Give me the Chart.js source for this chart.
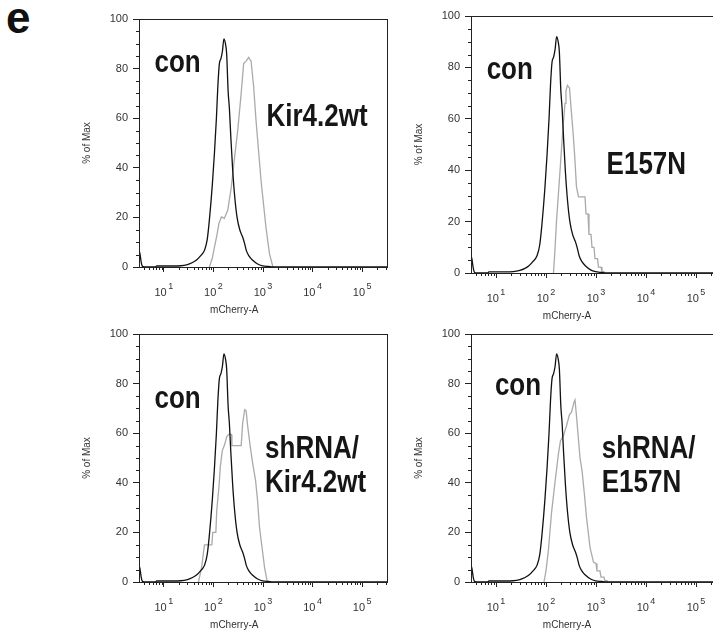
<!DOCTYPE html>
<html>
<head>
<meta charset="utf-8">
<script src="https://cdn.jsdelivr.net/npm/chart.js@4.4.1/dist/chart.umd.min.js"></script>
<style>
  html, body { margin: 0; padding: 0; background: #fff; }
  body { width: 713px; height: 635px; overflow: hidden; position: relative; }
  canvas { position: absolute; }
  #tag { position: absolute; left: 6px; top: -7px; line-height: 44px; font: bold 44px "Liberation Sans", Arial, sans-serif; color: #111; }
</style>
</head>
<body>
<div id="tag">e</div>
<canvas id="p1"></canvas>
<canvas id="p2"></canvas>
<canvas id="p3"></canvas>
<canvas id="p4"></canvas>
<script>
const FONT = '"Liberation Sans", Arial, sans-serif';

// mCherry-A intensity (x) and % of Max (y)
const conX = [3.17, 3.2, 3.3, 3.5, 3.7, 4.0, 6.8, 7.2, 15, 22, 30, 38, 45, 55, 66, 75, 83, 95, 105, 115, 123, 132, 142, 152, 163, 175, 185, 198, 210, 225, 245, 270, 300, 340, 390, 425, 460, 520, 620, 780, 980, 1300, 1600, 316000];
const conY = [2, 6.5, 5.5, 2, 0.3, 0, 0, 0.4, 0.4, 0.5, 1, 1.8, 2.7, 4.5, 6.7, 11, 19, 33, 46, 60, 73, 82, 84, 87, 92, 90, 86, 71, 64, 52, 39, 28, 20, 15, 12, 9.5, 6.7, 4.5, 2.7, 1.2, 0.5, 0.2, 0, 0];

const kirWtX = [83, 95, 105, 118, 129, 145, 166, 195, 229, 263, 309, 363, 407, 457, 513, 575, 646, 724, 912, 1148, 1349, 1585];
const kirWtY = [0, 3.5, 8, 13, 17.5, 20.2, 19.6, 23, 32, 43, 55, 70, 82, 83, 84.5, 83, 73, 59, 35, 16, 5.4, 0];

const e157nX = [141, 150, 162, 176, 191, 207, 224, 240, 251, 269, 295, 324, 350, 372, 407, 447, 603, 631, 692, 724, 794, 832, 912, 955, 1072, 1122, 1259, 1318, 1445, 1480];
const e157nY = [0, 8, 20, 30, 40, 50, 59, 66, 71, 73, 72, 62, 54, 46.5, 33.5, 29.6, 29.6, 23, 23, 15, 15, 10, 10, 5.6, 5.6, 2.3, 2.3, 0.5, 0.5, 0];

const shKirX = [50, 58, 66, 93, 97, 112, 117, 129, 138, 151, 166, 186, 204, 229, 236, 363, 389, 427, 457, 490, 550, 617, 708, 776, 851, 955, 1072, 1202, 1259];
const shKirY = [0, 6, 15, 15, 20, 20, 29, 38, 46.5, 53, 55, 58.6, 59.5, 59.5, 55, 55, 64, 69.5, 69, 63, 55, 48, 41, 33, 22, 14, 6, 0.7, 0];

const shE157nX = [91, 100, 112, 129, 151, 178, 195, 224, 257, 295, 324, 363, 380, 407, 479, 525, 589, 646, 759, 891, 1000, 1047, 1200, 1259, 1445, 1500, 1660, 1738];
const shE157nY = [0, 4.5, 13, 28, 40, 52, 57, 59, 63, 67.5, 68.5, 72.5, 73.4, 67, 50, 45, 35, 26, 14, 8, 7.5, 4.5, 4.5, 2, 2, 0.5, 0.5, 0];

const X_MIN = Math.pow(10, 0.5);
const X_MAX = Math.pow(10, 5.5);
const Y_TICKS_STEP = 5;

// decade and minor tick values for the log axis
const logTicks = [];
for (let e = 0; e <= 5; e++) {
    for (let m = 1; m <= 9; m++) {
        const v = m * Math.pow(10, e);
        if (v >= X_MIN && v <= X_MAX) logTicks.push(v);
    }
}

function isDecade(v) {
    const e = Math.log10(v);
    return Math.abs(e - Math.round(e)) < 1e-9;
}

function toPoints(xs, ys) {
    return xs.map((x, i) => ({ x: x, y: ys[i] }));
}

const decor = {
    id: 'decor',
    afterDraw(chart, args, opts) {
        const { ctx, chartArea: a, scales: { x, y } } = chart;
        ctx.save();
        ctx.strokeStyle = '#222';
        ctx.lineWidth = 1;
        ctx.beginPath();
        x.ticks.forEach(t => {
            if (isDecade(t.value)) return;
            const px = Math.round(x.getPixelForValue(t.value)) + 0.5;
            ctx.moveTo(px, a.bottom);
            ctx.lineTo(px, a.bottom + 3);
        });
        y.ticks.forEach(t => {
            if (t.value % 20 === 0) return;
            const py = Math.round(y.getPixelForValue(t.value)) + 0.5;
            ctx.moveTo(a.left - 3, py);
            ctx.lineTo(a.left, py);
        });
        ctx.stroke();
        ctx.strokeRect(Math.round(a.left) + 0.5, Math.round(a.top) + 0.5,
            Math.round(a.right - a.left), Math.round(a.bottom - a.top));

        // 10^n labels
        ctx.fillStyle = '#333';
        ctx.textAlign = 'left';
        ctx.textBaseline = 'alphabetic';
        x.ticks.forEach(t => {
            if (!isDecade(t.value)) return;
            const e = String(Math.round(Math.log10(t.value)));
            const px = x.getPixelForValue(t.value);
            ctx.font = '11px ' + FONT;
            const wb = ctx.measureText('10').width;
            ctx.font = '9px ' + FONT;
            const we = ctx.measureText(e).width;
            const left = px - (wb + 1.5 + we) / 2;
            ctx.font = '11px ' + FONT;
            ctx.fillText('10', left, a.bottom + 29);
            ctx.font = '9px ' + FONT;
            ctx.fillText(e, left + wb + 1.5, a.bottom + 22);
        });
        ctx.font = '10px ' + FONT;
        ctx.textAlign = 'center';
        ctx.fillText('mCherry-A', x.getPixelForValue(opts.titleAt), a.bottom + 46);

        // sample names, slightly tall like the printed figure
        ctx.fillStyle = '#161616';
        ctx.font = 'bold 26px ' + FONT;
        ctx.textAlign = 'left';
        opts.notes.forEach(n => {
            ctx.save();
            ctx.translate(x.getPixelForValue(n.x), y.getPixelForValue(n.y));
            ctx.scale(1, 1.2);
            ctx.fillText(n.text, 0, 0);
            ctx.restore();
        });
        ctx.restore();
    }
};

const panels = [
    { id: 'p1', L: 139, T: 19, R: 387, B: 267, grey: [kirWtX, kirWtY],
      notes: [{ text: 'con', x: 6.5, y: 78.7 }, { text: 'Kir4.2wt', x: 1175, y: 56.9 }] },
    { id: 'p2', L: 471, T: 16, R: 721, B: 273, grey: [e157nX, e157nY],
      notes: [{ text: 'con', x: 6.5, y: 75.6 }, { text: 'E157N', x: 1629, y: 38.7 }] },
    { id: 'p3', L: 139, T: 334, R: 387, B: 582, grey: [shKirX, shKirY],
      notes: [{ text: 'con', x: 6.5, y: 70.1 }, { text: 'shRNA/', x: 1100, y: 50 }, { text: 'Kir4.2wt', x: 1100, y: 36.4 }] },
    { id: 'p4', L: 471, T: 334, R: 721, B: 582, grey: [shE157nX, shE157nY],
      notes: [{ text: 'con', x: 9.5, y: 75.4 }, { text: 'shRNA/', x: 1300, y: 49.8 }, { text: 'E157N', x: 1300, y: 36.3 }] }
];

panels.forEach(p => {
    const canvas = document.getElementById(p.id);
    const x0 = p.L - 80, y0 = p.T - 16;
    const W = p.R - p.L + 100, H = p.B - p.T + 70;
    canvas.width = W;
    canvas.height = H;
    canvas.style.left = x0 + 'px';
    canvas.style.top = y0 + 'px';
    canvas.style.width = W + 'px';
    canvas.style.height = H + 'px';

    new Chart(canvas, {
        type: 'line',
        data: {
            datasets: [
                { label: 'con', data: toPoints(conX, conY), borderColor: '#111', borderWidth: 1.3,
                  pointRadius: 0, cubicInterpolationMode: 'monotone' },
                { label: p.notes[p.notes.length - 1].text, data: toPoints(p.grey[0], p.grey[1]),
                  borderColor: '#aaa', borderWidth: 1.3, pointRadius: 0, tension: 0 }
            ]
        },
        options: {
            responsive: false,
            animation: false,
            devicePixelRatio: 1,
            layout: { padding: { left: 0, top: 16, right: 20, bottom: 0 } },
            plugins: {
                legend: { display: false },
                tooltip: { enabled: false },
                decor: { titleAt: Math.pow(10, 2.42), notes: p.notes }
            },
            scales: {
                x: {
                    type: 'logarithmic',
                    min: X_MIN,
                    max: X_MAX,
                    border: { display: false },
                    grid: {
                        drawOnChartArea: false,
                        tickLength: 5,
                        tickColor: c => (c.tick && isDecade(c.tick.value)) ? '#222' : 'rgba(0,0,0,0)'
                    },
                    ticks: { autoSkip: false, maxRotation: 0, callback: () => '' },
                    afterBuildTicks: s => { s.ticks = logTicks.map(v => ({ value: v })); },
                    afterFit: s => { s.height = 54; }
                },
                y: {
                    min: 0,
                    max: 100,
                    border: { display: false },
                    grid: {
                        drawOnChartArea: false,
                        tickLength: 6,
                        tickColor: c => (c.tick && c.tick.value % 20 === 0) ? '#222' : 'rgba(0,0,0,0)'
                    },
                    ticks: {
                        stepSize: Y_TICKS_STEP,
                        autoSkip: false,
                        padding: 5,
                        color: '#333',
                        font: { size: 11, family: FONT },
                        callback: v => v % 20 === 0 ? v : ''
                    },
                    title: {
                        display: true,
                        text: '% of Max',
                        color: '#333',
                        font: { size: 10, family: FONT },
                        padding: { top: 22, bottom: 0 }
                    },
                    afterFit: s => { s.width = 80; }
                }
            }
        },
        plugins: [decor]
    });
});
</script>
</body>
</html>
